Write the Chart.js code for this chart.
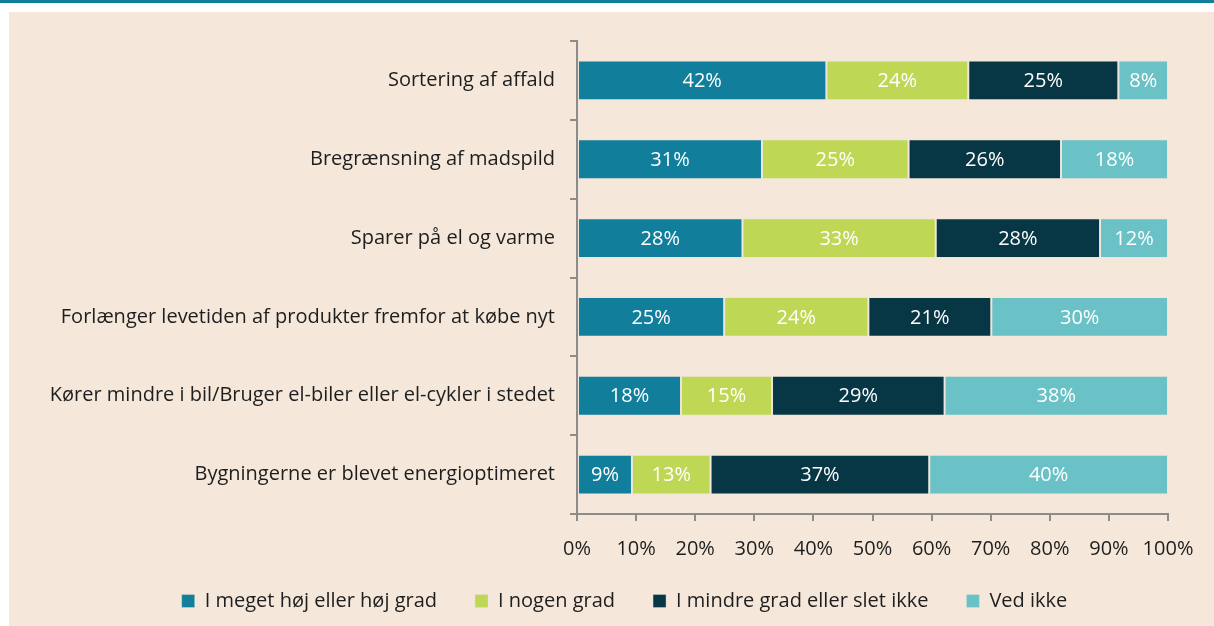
<!DOCTYPE html>
<html>
<head>
<meta charset="utf-8">
<script src="https://cdn.jsdelivr.net/npm/chart.js@4.4.1/dist/chart.umd.min.js"></script>
<style>
  html, body { margin: 0; padding: 0; background: #ffffff; width: 1214px; height: 626px; overflow: hidden; }
  #topline { position: absolute; left: 0; top: 0; width: 1214px; height: 3px; background: #117e9b; }
  #panel { position: absolute; left: 9px; top: 12px; width: 1205px; height: 614px; background: #f5e8da; }
  canvas { display: block; }
</style>
</head>
<body>
<div id="topline"></div>
<div id="panel"><canvas id="c" width="1205" height="614"></canvas></div>
<script>
const categories = [
  "Sortering af affald",
  "Bregrænsning af madspild",
  "Sparer på el og varme",
  "Forlænger levetiden af produkter fremfor at købe nyt",
  "Kører mindre i bil/Bruger el-biler eller el-cykler i stedet",
  "Bygningerne er blevet energioptimeret"
];
const seriesNames = [
  "I meget høj eller høj grad",
  "I nogen grad",
  "I mindre grad eller slet ikke",
  "Ved ikke"
];
const highValues    = [42.2, 31.3, 28.0, 24.9, 17.6,  9.3];
const someValues    = [24.0, 24.8, 32.7, 24.4, 15.4, 13.3];
const lowValues     = [25.4, 25.8, 27.8, 20.8, 29.2, 37.0];
const unknownValues = [ 8.4, 18.1, 11.5, 29.9, 37.8, 40.4];
const xTicks = [0, 10, 20, 30, 40, 50, 60, 70, 80, 90, 100];

const colors = ["#117e9b", "#bed856", "#073645", "#6ac2c6"];
const FONT = "'Open Sans', 'Noto Sans', sans-serif";
const textColor = "#1e1e1e";
const axisGrey = "#8c8c8c";

const allValues = [highValues, someValues, lowValues, unknownValues];

const barLabels = {
  id: 'barLabels',
  afterDatasetsDraw(chart) {
    const ctx = chart.ctx;
    ctx.save();
    ctx.font = "20px " + FONT;
    ctx.fillStyle = "#ffffff";
    ctx.textAlign = "center";
    ctx.textBaseline = "middle";
    chart.data.datasets.forEach((ds, di) => {
      const meta = chart.getDatasetMeta(di);
      meta.data.forEach((bar, i) => {
        const v = ds.data[i];
        const cx = (bar.x + bar.base) / 2;
        ctx.fillText(Math.round(v) + "%", cx, bar.y + 1);
      });
    });
    ctx.restore();
  }
};

// make the legend block take less vertical room and sit centred like the original
const LEGEND_TRIM = 24;
const legendAdjust = {
  id: 'legendAdjust',
  beforeLayout(chart) {
    const lg = chart.legend;
    if (lg && !lg._trimPatched) {
      const origFit = lg.fit;
      lg.fit = function () { origFit.call(this); this.height -= LEGEND_TRIM; };
      lg._trimPatched = true;
    }
  },
  afterLayout(chart) {
    const lg = chart.legend;
    if (lg) {
      lg.left += 36; lg.right += 36;
      lg.top -= LEGEND_TRIM;
      lg.height = lg.bottom - lg.top;
    }
  }
};

const chart = new Chart(document.getElementById('c'), {
  type: 'bar',
  data: {
    labels: categories,
    datasets: seriesNames.map((name, i) => ({
      label: name,
      data: allValues[i],
      backgroundColor: colors[i],
      borderColor: 'rgba(225,225,220,0.4)',
      borderWidth: 1,
      borderSkipped: false,
      categoryPercentage: 1.0,
      barPercentage: 0.506
    }))
  },
  options: {
    indexAxis: 'y',
    responsive: false,
    animation: false,
    devicePixelRatio: 1,
    layout: { padding: { top: 29, right: 46, left: 0, bottom: 5 } },
    plugins: {
      legend: {
        position: 'bottom',
        labels: {
          font: { family: FONT, size: 20 },
          color: textColor,
          boxWidth: 13,
          boxHeight: 13,
          padding: 38,
          useBorderRadius: false
        }
      },
      tooltip: { enabled: false }
    },
    scales: {
      x: {
        stacked: true,
        min: 0,
        max: 100,
        afterBuildTicks(scale) { scale.ticks = xTicks.map(v => ({ value: v })); },
        ticks: {
          font: { family: FONT, size: 20 },
          color: textColor,
          padding: 16,
          maxRotation: 0,
          callback: v => v + "%"
        },
        grid: { drawOnChartArea: false, drawTicks: true, tickLength: 7, color: axisGrey, lineWidth: 2 },
        border: { display: true, color: axisGrey, width: 2 }
      },
      y: {
        stacked: true,
        afterFit(scale) { scale.width = 568; },
        ticks: {
          font: { family: FONT, size: 20 },
          color: textColor,
          padding: 15,
          crossAlign: 'near'
        },
        grid: { offset: true, drawOnChartArea: false, drawTicks: true, tickLength: 7, color: axisGrey, lineWidth: 2 },
        border: { display: true, color: axisGrey, width: 2 }
      }
    }
  },
  plugins: [barLabels, legendAdjust]
});
</script>
</body>
</html>
